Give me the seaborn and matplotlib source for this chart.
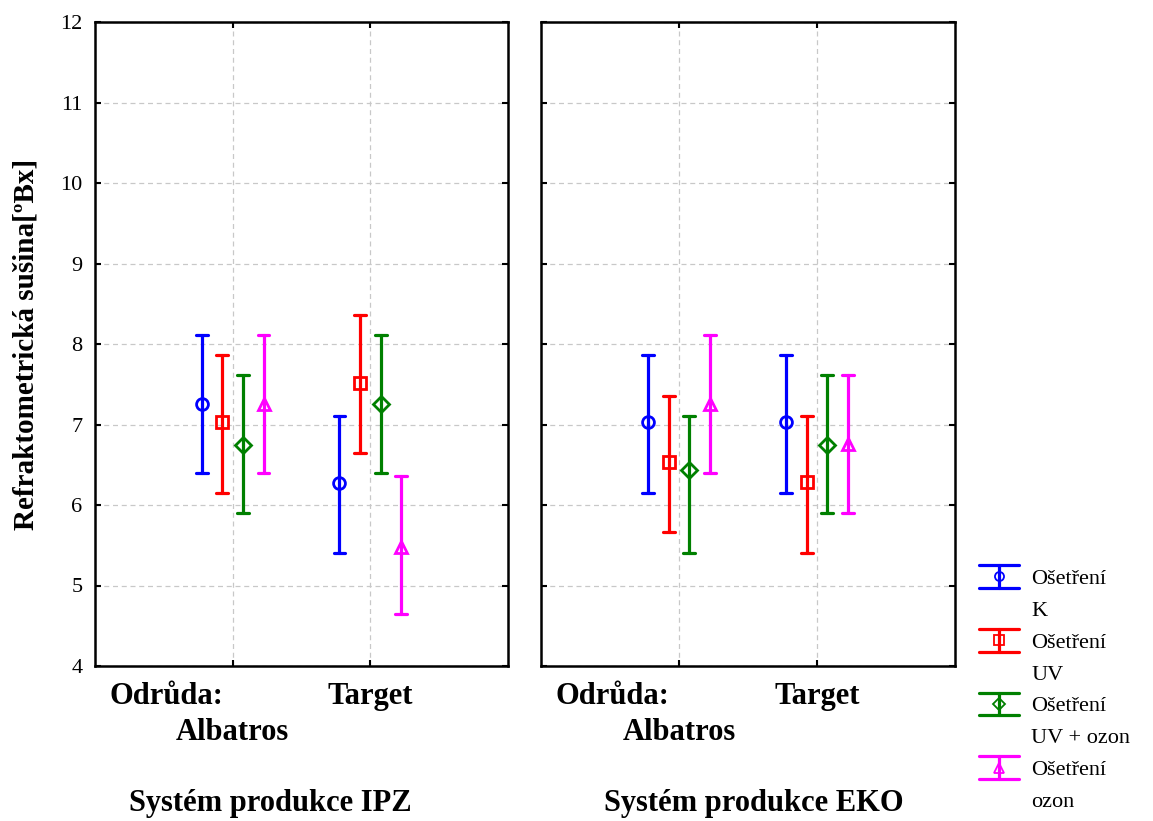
import numpy as np
import pandas as pd
import seaborn as sns
import matplotlib
matplotlib.use("Agg")
import matplotlib.pyplot as plt
from matplotlib.lines import Line2D
from matplotlib.patches import Rectangle
from matplotlib.legend_handler import HandlerBase
import matplotlib.transforms as mtransforms

# ---------------- data ----------------
systems = ["IPZ", "EKO"]
system_titles = ["Systém produkce IPZ", "Systém produkce EKO"]
varieties = ["Albatros", "Target"]
treatments = ["K", "UV", "UV + ozon", "ozon"]
legend_prefix = "Ošetření"

# values per system -> variety -> treatment (K, UV, UV+ozon, ozon)
ipz_albatros_mean = [7.26, 7.03, 6.75, 7.25]
ipz_albatros_lo = [6.40, 6.15, 5.90, 6.40]
ipz_albatros_hi = [8.11, 7.86, 7.61, 8.11]
ipz_target_mean = [6.27, 7.52, 7.25, 5.48]
ipz_target_lo = [5.40, 6.65, 6.40, 4.65]
ipz_target_hi = [7.10, 8.36, 8.11, 6.36]

eko_albatros_mean = [7.03, 6.54, 6.44, 7.25]
eko_albatros_lo = [6.15, 5.66, 5.40, 6.40]
eko_albatros_hi = [7.86, 7.35, 7.10, 8.11]
eko_target_mean = [7.03, 6.28, 6.75, 6.76]
eko_target_lo = [6.15, 5.40, 5.90, 5.90]
eko_target_hi = [7.86, 7.10, 7.61, 7.61]

y_ticks = [4, 5, 6, 7, 8, 9, 10, 11, 12]
y_label = "Refraktometrická sušina[ºBx]"
x_prefix = "Odrůda:"

colors = ["#0000ff", "#ff0000", "#008000", "#ff00ff"]
markers = ["o", "s", "D", "^"]

table = {
    ("IPZ", "Albatros"): (ipz_albatros_lo, ipz_albatros_mean, ipz_albatros_hi),
    ("IPZ", "Target"): (ipz_target_lo, ipz_target_mean, ipz_target_hi),
    ("EKO", "Albatros"): (eko_albatros_lo, eko_albatros_mean, eko_albatros_hi),
    ("EKO", "Target"): (eko_target_lo, eko_target_mean, eko_target_hi),
}
rows = []
for (sysname, var), (lo, me, hi) in table.items():
    for i, t in enumerate(treatments):
        for v in (lo[i], me[i], hi[i]):
            rows.append({"system": sysname, "variety": var, "treatment": t, "value": v})
df = pd.DataFrame(rows)

# ---------------- style ----------------
sns.set_style("white")
plt.rcParams["font.family"] = ["Liberation Serif", "DejaVu Serif"]
plt.rcParams["text.color"] = "black"
plt.rcParams["axes.labelcolor"] = "black"
plt.rcParams["xtick.color"] = "black"
plt.rcParams["ytick.color"] = "black"

W, H = 1153, 821
fig = plt.figure(figsize=(W / 100, H / 100), dpi=100)

def fx(px):
    return px / W

def fy(py):
    return 1 - py / H

ax_top, ax_bot = 22, 666
panels = [(95, 508), (541, 955)]
axes = []
for (l, r) in panels:
    axes.append(fig.add_axes([fx(l), fy(ax_bot), (r - l) / W, (ax_bot - ax_top) / H]))

title_x = [0.424, 0.514]
BOLD = 22

for k, (ax, sysname) in enumerate(zip(axes, systems)):
    sub = df[df["system"] == sysname]
    sns.pointplot(
        data=sub, x="variety", y="value", hue="treatment",
        order=varieties, hue_order=treatments, palette=colors,
        estimator=np.median, errorbar=lambda v: (v.min(), v.max()),
        markers=markers, linestyle="none", dodge=0.45, capsize=0.085,
        markersize=8.5, markeredgewidth=2.0, markerfacecolor="none",
        err_kws={"linewidth": 2.3}, legend=False, ax=ax,
    )
    ax.set_xlim(-1, 2)
    ax.set_ylim(4, 12)
    ax.set_yticks(y_ticks)
    ax.set_xticks(range(len(varieties)))
    ax.set_xticklabels([])
    ax.set_xlabel("")
    ax.set_ylabel("")
    ax.grid(True, linestyle=(0, (4, 3)), color="#c8c8c8", linewidth=0.9)
    ax.set_axisbelow(True)
    for sp in ax.spines.values():
        sp.set_visible(True)
        sp.set_color("black")
        sp.set_linewidth(1.8)
    ax.tick_params(direction="in", length=4, width=1.5, top=True, right=True,
                   left=True, bottom=True, labelsize=16, pad=9, colors="black")
    if k == 0:
        ax.set_ylabel(y_label, fontsize=21, fontweight="bold")
    else:
        ax.set_yticklabels([])

    trans = mtransforms.blended_transform_factory(ax.transData, ax.transAxes)
    ax.text(-0.07, -0.048, x_prefix, transform=trans, ha="right", va="center",
            fontsize=BOLD, fontweight="bold")
    ax.text(0, -0.104, varieties[0], transform=trans, ha="center", va="center",
            fontsize=BOLD, fontweight="bold")
    ax.text(1, -0.048, varieties[1], transform=trans, ha="center", va="center",
            fontsize=BOLD, fontweight="bold")
    ax.text(title_x[k], -0.213, system_titles[k], transform=ax.transAxes,
            ha="center", va="center", fontsize=BOLD, fontweight="bold")

axes[0].yaxis.set_label_coords(-0.135, 0.5)

# ---------------- legend ----------------
class HandlerI(HandlerBase):
    def create_artists(self, legend, orig, xdescent, ydescent, width, height,
                       fontsize, trans):
        c = orig.get_color()
        m = orig.get_marker()
        x0, x1 = -xdescent, -xdescent + width
        y0, y1 = -ydescent, -ydescent + height
        xm = (x0 + x1) / 2
        ym = (y0 + y1) / 2
        lw = 2.3
        arts = [
            Line2D([xm, xm], [y0, y1], color=c, lw=lw),
            Line2D([x0, x1], [y0, y0], color=c, lw=lw),
            Line2D([x0, x1], [y1, y1], color=c, lw=lw),
            Line2D([xm], [ym], marker=m, markersize=6.5, markerfacecolor="none",
                   markeredgecolor=c, markeredgewidth=1.3, linestyle="none"),
        ]
        for a in arts:
            a.set_transform(trans)
        return arts

handles, labels = [], []
for t, c, m in zip(treatments, colors, markers):
    handles.append(Line2D([], [], color=c, marker=m))
    labels.append(legend_prefix)
    handles.append(Rectangle((0, 0), 1, 1, facecolor="none", edgecolor="none"))
    labels.append(t)

fig.legend(handles, labels, handler_map={Line2D: HandlerI()},
           loc="upper left", bbox_to_anchor=(fx(979), fy(565)),
           frameon=False, fontsize=16, handlelength=1.8, handleheight=1.2,
           handletextpad=0.55, labelspacing=0.36, borderpad=0, borderaxespad=0)

fig.savefig("out.png", dpi=100)
